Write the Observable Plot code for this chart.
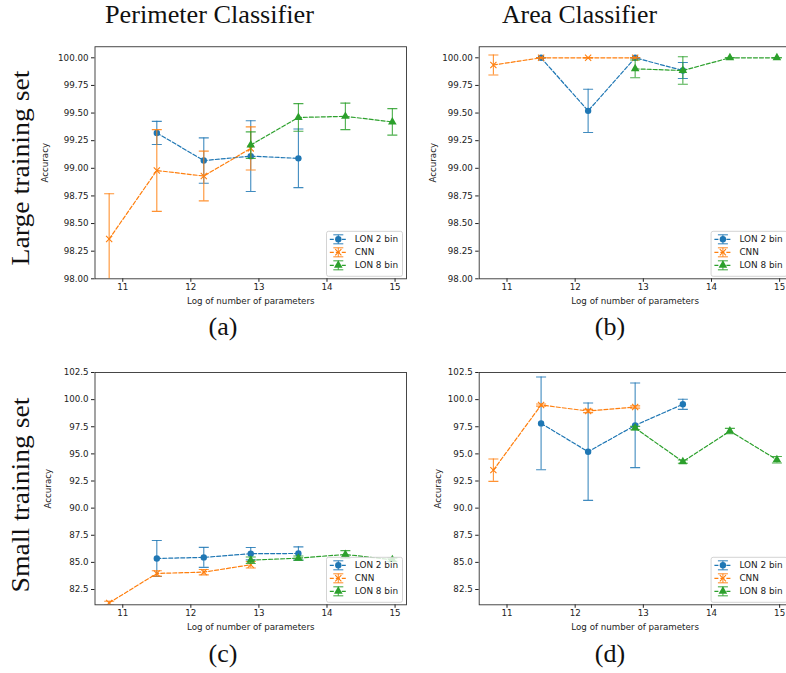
<!DOCTYPE html>
<html><head><meta charset="utf-8">
<script src="https://cdn.jsdelivr.net/npm/d3@7"></script>
<script src="https://cdn.jsdelivr.net/npm/@observablehq/plot@0.6"></script>
<style>
html,body{margin:0;padding:0;background:#fff;overflow:hidden;}
#root{position:relative;width:786px;height:673px;overflow:hidden;background:#fff;}
#root svg{position:absolute;}
</style></head><body><div id="root"></div>
<script>
// ---------- data ----------
const seriesNames = ["LON 2 bin", "CNN", "LON 8 bin"];
const seriesColors = ["#1f77b4", "#ff7f0e", "#2ca02c"];
const lon2X = [11.5, 12.19, 12.88, 13.58];
const cnnX  = [10.8, 11.5, 12.19, 12.88];
const lon8X = [12.88, 13.58, 14.27, 14.96];
const xTicks = [11, 12, 13, 14, 15];
const yTicksLarge = [98, 98.25, 98.5, 98.75, 99, 99.25, 99.5, 99.75, 100];
const yTicksSmall = [82.5, 85, 87.5, 90, 92.5, 95, 97.5, 100, 102.5];

// (a) Perimeter classifier, large training set
const aLon2 = [99.32, 99.07, 99.11, 99.09];   const aLon2Err = [0.105, 0.205, 0.32, 0.265];
const aCnn  = [98.36, 98.98, 98.93, 99.18];   const aCnnErr  = [0.41, 0.37, 0.225, 0.195];
const aLon8 = [99.21, 99.46, 99.47, 99.42];   const aLon8Err = [0.12, 0.125, 0.12, 0.12];
// (b) Area classifier, large training set
const bLon2 = [100.0, 99.52, 100.0, 99.885];  const bLon2Err = [0, 0.196, 0, 0.072];
const bCnn  = [99.935, 100.0, 100.0, 100.0];  const bCnnErr  = [0.09, 0, 0, 0];
const bLon8 = [99.9, 99.885, 100.0, 100.0];   const bLon8Err = [0.08, 0.125, 0, 0];
// (c) Perimeter classifier, small training set
const cLon2 = [85.36, 85.46, 85.8, 85.82];    const cLon2Err = [1.66, 0.92, 0.57, 0.61];
const cCnn  = [81.27, 83.98, 84.1, 84.78];    const cCnnErr  = [0.15, 0.25, 0.25, 0.3];
const cLon8 = [85.2, 85.39, 85.73, 85.24];    const cLon8Err = [0.3, 0.2, 0.35, 0.15];
// (d) Area classifier, small training set
const dLon2 = [97.81, 95.2, 97.63, 99.57];    const dLon2Err = [4.27, 4.49, 3.9, 0.47];
const dCnn  = [93.5, 99.5, 98.95, 99.32];     const dCnnErr  = [1.03, 0.1, 0.15, 0.1];
const dLon8 = [97.38, 94.28, 97.1, 94.46];    const dLon8Err = [0.15, 0.15, 0.25, 0.3];

const columnTitles = ["Perimeter Classifier", "Area Classifier"];
const rowTitles = ["Large training set", "Small training set"];
const panelLetters = ["(a)", "(b)", "(c)", "(d)"];
const xLabel = "Log of number of parameters";
const yLabel = "Accuracy";

// ---------- helpers ----------
const FONT = "DejaVu Sans, sans-serif";
const FS = 8.7;
const capSymbol = {draw(ctx, size) { const w = Math.sqrt(size / Math.PI); ctx.moveTo(-w, 0); ctx.lineTo(w, 0); }};
const symbols = ["circle", "times", "triangle"];
const d3symbols = [d3.symbolCircle, d3.symbolTimes, d3.symbolTriangle];
const markR = [3.2, 2.9, 3.2];

function makeSeries(vals) {
  const xsAll = [lon2X, cnnX, lon8X];
  return vals.map(([y, e], k) => ({
    name: seriesNames[k], color: seriesColors[k], k,
    data: xsAll[k].map((x, i) => ({x, y: y[i], e: e[i]}))
  }));
}

const root = document.getElementById("root");

function panel(p) {
  const mL = p.fl - p.left, mR = p.left + p.width - p.fr, mT = p.ft - p.top, mB = p.top + p.height - p.fb;
  const marks = [];
  for (const s of p.series) {
    marks.push(Plot.line(s.data, {x: "x", y: "y", stroke: s.color, strokeWidth: 1.2, strokeDasharray: "4,2", clip: true}));
    marks.push(Plot.ruleX(s.data, {x: "x", y1: d => d.y - d.e, y2: d => d.y + d.e, stroke: s.color, strokeWidth: 1.1, strokeOpacity: 0.85, clip: true}));
    marks.push(Plot.dot(s.data, {x: "x", y: d => d.y + d.e, symbol: capSymbol, r: 5, stroke: s.color, fill: "none", strokeWidth: 1.1, strokeOpacity: 0.85, clip: true}));
    marks.push(Plot.dot(s.data, {x: "x", y: d => d.y - d.e, symbol: capSymbol, r: 5, stroke: s.color, fill: "none", strokeWidth: 1.1, strokeOpacity: 0.85, clip: true}));
    if (s.k === 1) marks.push(Plot.dot(s.data, {x: "x", y: "y", symbol: "times", r: markR[1], stroke: s.color, fill: "none", strokeWidth: 1.1, clip: true}));
    else marks.push(Plot.dot(s.data, {x: "x", y: "y", symbol: symbols[s.k], r: markR[s.k], fill: s.color, stroke: "none", clip: true}));
  }
  marks.push(Plot.frame({stroke: "#333", strokeWidth: 0.9}));
  marks.push(Plot.text([xLabel], {text: d => d, frameAnchor: "bottom", textAnchor: "middle", lineAnchor: "middle", dy: 22, fontSize: FS, fill: "#222"}));
  marks.push(Plot.text([yLabel], {text: d => d, frameAnchor: "left", textAnchor: "middle", lineAnchor: "middle", rotate: -90, dx: p.ylabDx, fontSize: FS, fill: "#222"}));
  const svg = Plot.plot({
    width: p.width, height: p.height,
    marginLeft: mL, marginRight: mR, marginTop: mT, marginBottom: mB,
    style: {fontFamily: FONT, fontSize: FS + "px", color: "#222", background: "transparent", maxWidth: "none", overflow: "visible"},
    x: {domain: [10.592, 15.168], ticks: xTicks, tickSize: 3.5, tickPadding: 2, label: null, tickFormat: d3.format("d")},
    y: {domain: p.yDomain, ticks: p.yTicks, tickSize: 3.5, tickPadding: 3, label: null, tickFormat: d3.format(p.yFmt)},
    marks
  });
  svg.style.left = p.left + "px";
  svg.style.top = p.top + "px";
  // legend (lower right)
  const g = d3.select(svg).append("g").attr("text-anchor", "start");
  const lw = 76, lh = 45;
  const rx = (p.fr - p.left) - 3.5, by = (p.fb - p.top) - 2;
  const lx = rx - lw, ly = by - lh;
  g.append("rect").attr("x", lx).attr("y", ly).attr("width", lw).attr("height", lh).attr("rx", 2)
    .attr("fill", "white").attr("fill-opacity", 0.8).attr("stroke", "#cfcfcf").attr("stroke-width", 0.9);
  p.series.forEach((s, i) => {
    const cy = ly + 8 + i * 13;
    const x0 = lx + 3.3, x1 = lx + 20.3, cx = (x0 + x1) / 2;
    g.append("line").attr("x1", x0).attr("x2", x1).attr("y1", cy).attr("y2", cy)
      .attr("stroke", s.color).attr("stroke-width", 1.2).attr("stroke-dasharray", "4,2");
    g.append("line").attr("x1", cx).attr("x2", cx).attr("y1", cy - 4.5).attr("y2", cy + 4.5)
      .attr("stroke", s.color).attr("stroke-width", 1.1).attr("stroke-opacity", 0.85);
    for (const yy of [cy - 4.5, cy + 4.5])
      g.append("line").attr("x1", cx - 5).attr("x2", cx + 5).attr("y1", yy).attr("y2", yy)
        .attr("stroke", s.color).attr("stroke-width", 1.1).attr("stroke-opacity", 0.85);
    const sym = d3.symbol().type(d3symbols[s.k]).size(Math.PI * markR[s.k] ** 2)();
    const path = g.append("path").attr("d", sym).attr("transform", `translate(${cx},${cy})`);
    if (s.k === 1) path.attr("fill", "none").attr("stroke", s.color).attr("stroke-width", 1.1);
    else path.attr("fill", s.color);
    g.append("text").attr("x", lx + 28.3).attr("y", cy).attr("dy", "0.35em").attr("text-anchor", "start")
      .attr("font-family", FONT).attr("font-size", FS + 0.2).attr("fill", "#222").text(s.name);
  });
  root.appendChild(svg);
}

panel({left: 0, top: 0, width: 420, height: 312, fl: 94.5, fr: 406, ft: 46.25, fb: 278.3,
  yDomain: [98, 100.1], yTicks: yTicksLarge, yFmt: ".2f", ylabDx: -49.5,
  series: makeSeries([[aLon2, aLon2Err], [aCnn, aCnnErr], [aLon8, aLon8Err]])});
panel({left: 400, top: 0, width: 400, height: 312, fl: 478.7, fr: 790.6, ft: 46.25, fb: 278.3,
  yDomain: [98, 100.1], yTicks: yTicksLarge, yFmt: ".2f", ylabDx: -45.7,
  series: makeSeries([[bLon2, bLon2Err], [bCnn, bCnnErr], [bLon8, bLon8Err]])});
panel({left: 0, top: 330, width: 420, height: 343, fl: 94.5, fr: 406, ft: 372, fb: 604.3,
  yDomain: [81.09, 102.5], yTicks: yTicksSmall, yFmt: ".1f", ylabDx: -46.5,
  series: makeSeries([[cLon2, cLon2Err], [cCnn, cCnnErr], [cLon8, cLon8Err]])});
panel({left: 400, top: 330, width: 400, height: 343, fl: 478.7, fr: 790.6, ft: 372, fb: 604.3,
  yDomain: [81.09, 102.5], yTicks: yTicksSmall, yFmt: ".1f", ylabDx: -40.7,
  series: makeSeries([[dLon2, dLon2Err], [dCnn, dCnnErr], [dLon8, dLon8Err]])});

// ---------- decorative serif titles ----------
const deco = d3.select(root).append("svg").attr("width", 786).attr("height", 673)
  .style("left", "0px").style("top", "0px").style("pointer-events", "none");
const SERIF = "Liberation Serif, Times New Roman, serif";
[[columnTitles[0], 209.5, 209], [columnTitles[1], 579.5, 155]].forEach(([t, cx, w]) => {
  deco.append("text").attr("x", cx).attr("y", 22.5).attr("text-anchor", "middle")
    .attr("font-family", SERIF).attr("font-size", 25).attr("fill", "#111")
    .attr("textLength", w).attr("lengthAdjust", "spacingAndGlyphs").text(t);
});
[[rowTitles[0], 168], [rowTitles[1], 495]].forEach(([t, cy]) => {
  deco.append("text").attr("transform", `translate(29,${cy}) rotate(-90)`).attr("text-anchor", "middle")
    .attr("font-family", SERIF).attr("font-size", 26).attr("fill", "#111")
    .attr("textLength", 195).attr("lengthAdjust", "spacingAndGlyphs").text(t);
});
[[panelLetters[0], 223, 335], [panelLetters[1], 610, 335], [panelLetters[2], 223, 662], [panelLetters[3], 610, 662]].forEach(([t, cx, by]) => {
  deco.append("text").attr("x", cx).attr("y", by).attr("text-anchor", "middle")
    .attr("font-family", SERIF).attr("font-size", 26).attr("fill", "#111").text(t);
});
</script></body></html>
